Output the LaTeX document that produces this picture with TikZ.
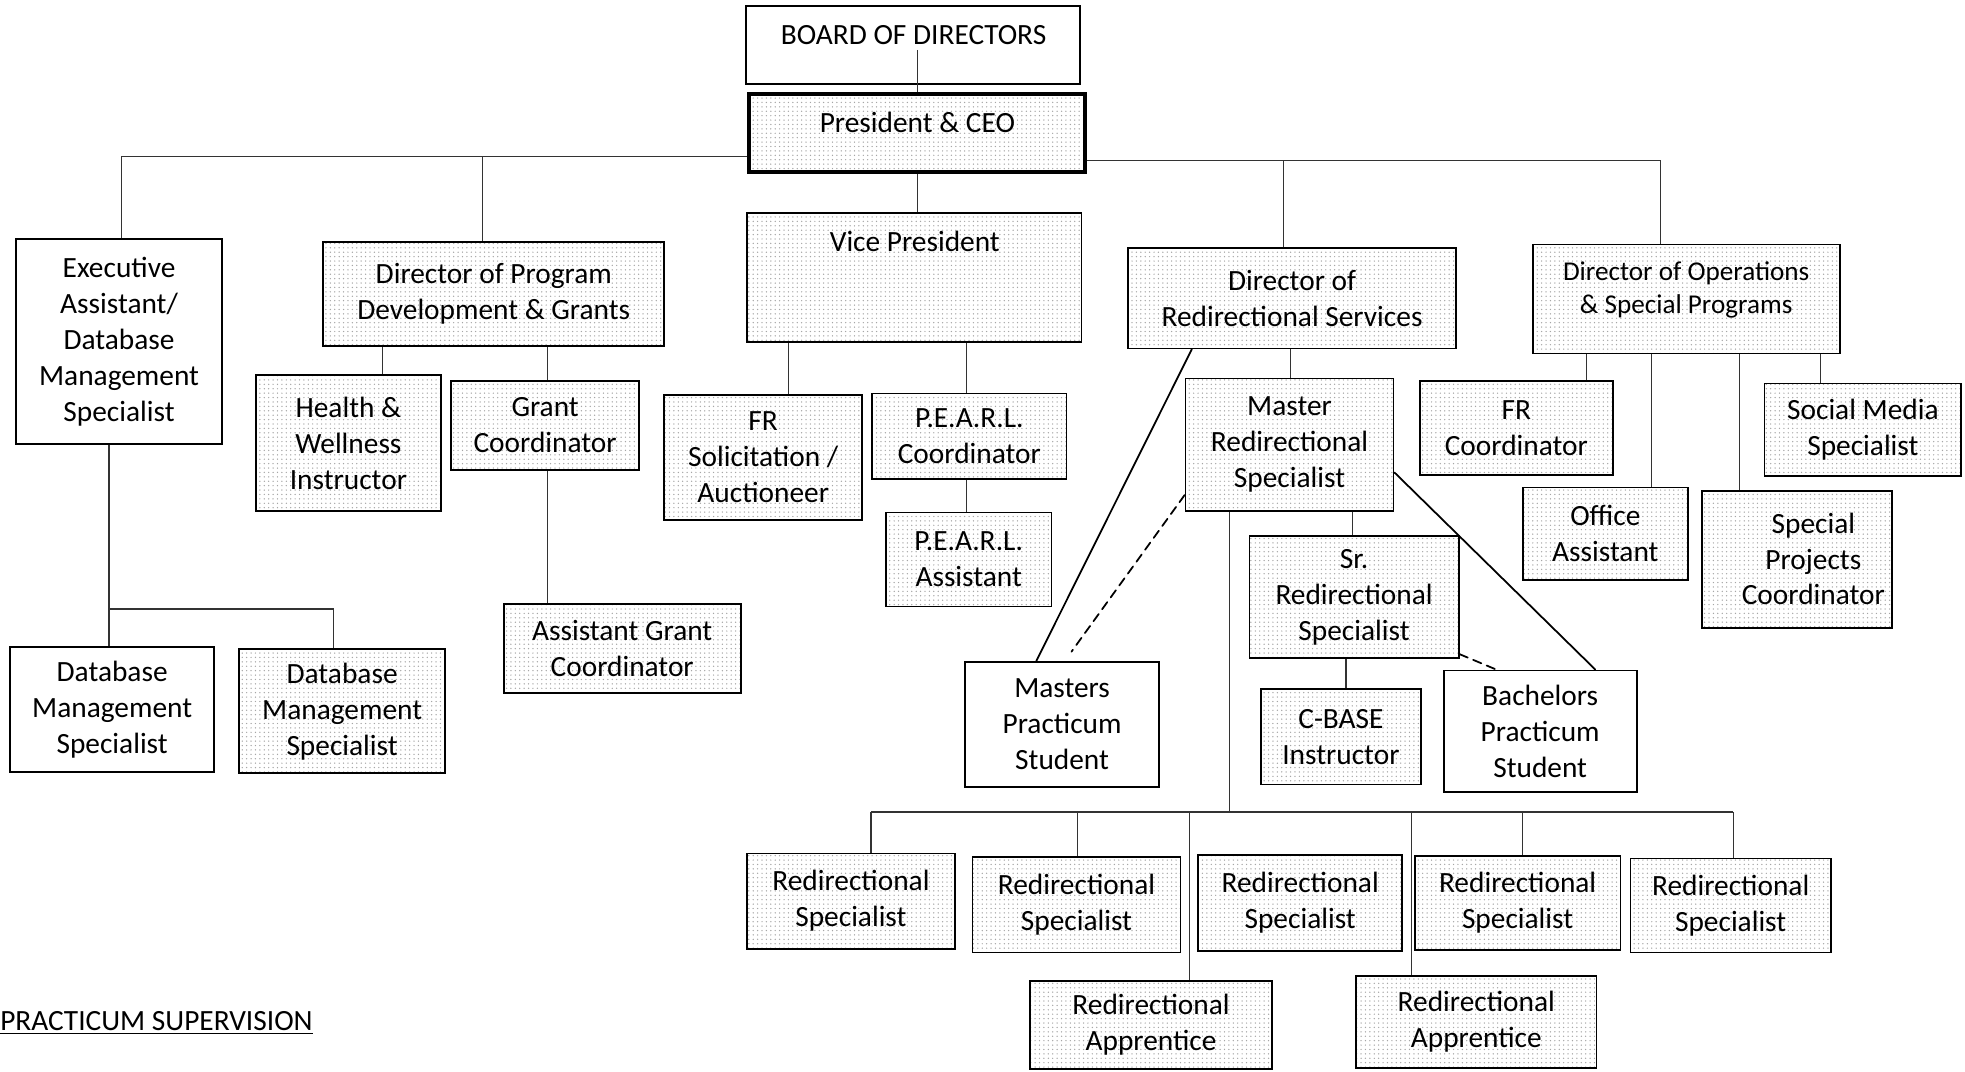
\documentclass[tikz,border=0pt]{standalone}
\usepackage{fontspec}
\setmainfont{Carlito}
\usetikzlibrary{fit,patterns}
\newcommand{\boxfont}{\fontsize{20}{24.5}\selectfont}
\newcommand{\opsfont}{\fontsize{18.5}{22.5}\selectfont}
\tikzset{
	box/.style={draw, line width=1.2pt, inner sep=0pt, align=center, font=\boxfont},
	stip/.style={box, pattern=dots, pattern color=black!35},
	txt/.style={font=\boxfont, align=center, inner sep=0pt},
	link/.style={line width=0.8pt, color=black!80},
	diag/.style={line width=1.2pt, line cap=round},
	dashdiag/.style={diag, dash pattern=on 6pt off 4pt},
}

\begin{document}
\begin{tikzpicture}[x=0.03cm, y=-0.03cm]
			%%%%% START %%%%%
			\useasboundingbox (0,0) rectangle (1568,855);
			
			\node[box, fit={(595,5) (862,67)}] (board) {};
			\node[font=\boxfont] (boardt) at (729,28) {BOARD OF DIRECTORS};
			\node[stip, line width=2.8pt, fit={(598,75) (866,137)}] (pres) {President \& CEO};
			
			\node[box, fit={(13,191) (177,354)}] (exec) {};
			\node[txt] (exect) at (exec) {Executive\\Assistant/\\Database\\Management\\Specialist};
			\node[stip, fit={(258,193) (530,276)}] (dprog) {};
			\node[txt] (dprogt) at (dprog) {Director of Program\\Development \& Grants};
			\node[stip, fit={(596,170) (863,273)}] (vp) {};
			\node[font=\boxfont] (vpt) at (730,193) {Vice President};
			\node[stip, fit={(900,198) (1162,278)}] (dredir) {};
			\node[txt] (dredirt) at (dredir) {Director of\\Redirectional Services};
			\node[stip, fit={(1223,195) (1468,282)}, font=\opsfont] (dops) {Director of Operations\\\& Special Programs};
			
			\node[stip, fit={(204,299) (352,408)}] (health) {};
			\node[txt] (healtht) at (health) {Health \&\\Wellness\\Instructor};
			\node[stip, fit={(360,304) (510,375)}] (grant) {};
			\node[txt] (grantt) at (grant) {Grant\\Coordinator};
			\node[stip, fit={(402,482) (591,553)}] (agrant) {};
			\node[txt] (agrantt) at (agrant) {Assistant Grant\\Coordinator};
			
			\node[box, fit={(8,516) (171,616)}] (dbm1) {};
			\node[txt] (dbm1t) at (dbm1) {Database\\Management\\Specialist};
			\node[stip, fit={(191,518) (355,617)}] (dbm2) {};
			\node[txt] (dbm2t) at (dbm2) {Database\\Management\\Specialist};
			
			\node[stip, fit={(530,315) (688,415)}] (frsol) {};
			\node[txt] (frsolt) at (frsol) {FR\\Solicitation /\\Auctioneer};
			\node[stip, fit={(696,314) (851,382)}] (pearlc) {};
			\node[txt] (pearlct) at (pearlc) {P.E.A.R.L.\\Coordinator};
			\node[stip, fit={(707,409) (839,484)}] (pearla) {};
			\node[txt] (pearlat) at (pearla) {P.E.A.R.L.\\Assistant};
			
			\node[stip, fit={(946,302) (1112,408)}] (mrs) {};
			\node[txt] (mrst) at (mrs) {Master\\Redirectional\\Specialist};
			\node[box, fit={(770,528) (925,628)}] (mps) {};
			\node[txt] (mpst) at (mps) {Masters\\Practicum\\Student};
			\node[stip, fit={(997,428) (1164,525)}] (srs) {};
			\node[txt] (srst) at (srs) {Sr.\\Redirectional\\Specialist};
			\node[stip, fit={(1006,550) (1134,626)}] (cbase) {};
			\node[txt] (cbaset) at (cbase) {C-BASE\\Instructor};
			\node[box, fit={(1152,535) (1306,632)}] (bps) {};
			\node[txt] (bpst) at (bps) {Bachelors\\Practicum\\Student};
			
			\node[stip, fit={(596,681) (762,757)}] (rs1) {};
			\node[txt] (rs1t) at (rs1) {Redirectional\\Specialist};
			\node[stip, fit={(776,684) (942,760)}] (rs2) {};
			\node[txt] (rs2t) at (rs2) {Redirectional\\Specialist};
			\node[stip, fit={(956,682) (1119,759)}] (rs3) {};
			\node[txt] (rs3t) at (rs3) {Redirectional\\Specialist};
			\node[stip, fit={(1129,683) (1293,758)}] (rs4) {};
			\node[txt] (rs4t) at (rs4) {Redirectional\\Specialist};
			\node[stip, fit={(1301,685) (1461,760)}] (rs5) {};
			\node[txt] (rs5t) at (rs5) {Redirectional\\Specialist};
			\node[stip, fit={(822,783) (1015,853)}] (ra1) {};
			\node[txt] (ra1t) at (ra1) {Redirectional\\Apprentice};
			\node[stip, fit={(1082,779) (1274,852)}] (ra2) {};
			\node[txt] (ra2t) at (ra2) {Redirectional\\Apprentice};
			
			\node[stip, fit={(1133,304) (1287,379)}] (frc) {};
			\node[txt] (frct) at (frc) {FR\\Coordinator};
			\node[stip, fit={(1215,389) (1347,463)}] (office) {};
			\node[txt] (officet) at (office) {Office\\Assistant};
			\node[stip, fit={(1358,392) (1510,501)}] (spc) {};
			\node[font=\boxfont, align=center] (spct) at (1447,446) {Special\\Projects\\Coordinator};
			\node[stip, fit={(1408,306) (1565,380)}] (smedia) {};
			\node[txt] (smediat) at (smedia) {Social Media\\Specialist};
			
			\node[anchor=west, inner sep=0pt, font=\boxfont] (practicum) at (0,816) {\underline{PRACTICUM SUPERVISION}};
			
			% top of the tree
			\coordinate (busl) at (97,125);
			\coordinate (busr) at (1325,128);
			\draw[link] (boardt.south -| pres.north) -- (pres.north);
			\draw[link] (pres.west |- busl) -- (busl) -- (busl |- exec.north);
			\draw[link] (385,0 |- busl) -- (385,0 |- dprog.north);
			\draw[link] (pres.south) -- (pres.south |- vp.north);
			\draw[link] (pres.east |- busr) -- (busr) -- (busr |- dops.north);
			\draw[link] (1024,0 |- busr) -- (1024,0 |- dredir.north);
			
			\coordinate (dbbus) at (87,486);
			\draw[link] (dbbus |- exec.south) -- (dbbus |- dbm1.north);
			\draw[link] (dbbus) -- (266,0 |- dbbus) -- (266,0 |- dbm2.north);
			
			\draw[link] (305,0 |- dprog.south) -- (305,0 |- health.north);
			\draw[link] (437,0 |- dprog.south) -- (437,0 |- grant.north);
			\draw[link] (437,0 |- grant.south) -- (437,0 |- agrant.north);
			
			\draw[link] (629,0 |- vp.south) -- (629,0 |- frsol.north);
			\draw[link] (771,0 |- vp.south) -- (771,0 |- pearlc.north);
			\draw[link] (771,0 |- pearlc.south) -- (771,0 |- pearla.north);
			
			\draw[link] (1030,0 |- dredir.south) -- (1030,0 |- mrs.north);
			\draw[link] (1079,0 |- mrs.south) -- (1079,0 |- srs.north);
			\draw[link] (1074,0 |- srs.south) -- (1074,0 |- cbase.north);
			\draw[diag] (951,0 |- dredir.south) -- (827,0 |- mps.north);
			\draw[dashdiag] (mrs.west |- 0,395) -- (855,520);
			\draw[diag] (mrs.east |- 0,377) -- (1273,0 |- bps.north);
			\draw[dashdiag] (srs.east |- 0,522) -- (1194,0 |- bps.north);
			
			% redirectional staff
			\coordinate (rbus) at (981,648);
			\draw[link] (981,0 |- mrs.south) -- (rbus);
			\draw[link] (695,0 |- rbus) -- (1383,0 |- rbus);
			\draw[link] (695,0 |- rbus) -- (695,0 |- rs1.north);
			\draw[link] (860,0 |- rbus) -- (860,0 |- rs2.north);
			\draw[link] (949,0 |- rbus) -- (949,0 |- ra1.north);
			\draw[link] (1126,0 |- rbus) -- (1126,0 |- ra2.north);
			\draw[link] (1215,0 |- rbus) -- (1215,0 |- rs4.north);
			\draw[link] (1383,0 |- rbus) -- (1383,0 |- rs5.north);
			
			\draw[link] (1266,0 |- dops.south) -- (1266,0 |- frc.north);
			\draw[link] (1318,0 |- dops.south) -- (1318,0 |- office.north);
			\draw[link] (1388,0 |- dops.south) -- (1388,0 |- spc.north);
			\draw[link] (1453,0 |- dops.south) -- (1453,0 |- smedia.north);
			
			%%%%% END %%%%%
\end{tikzpicture}
\end{document}
